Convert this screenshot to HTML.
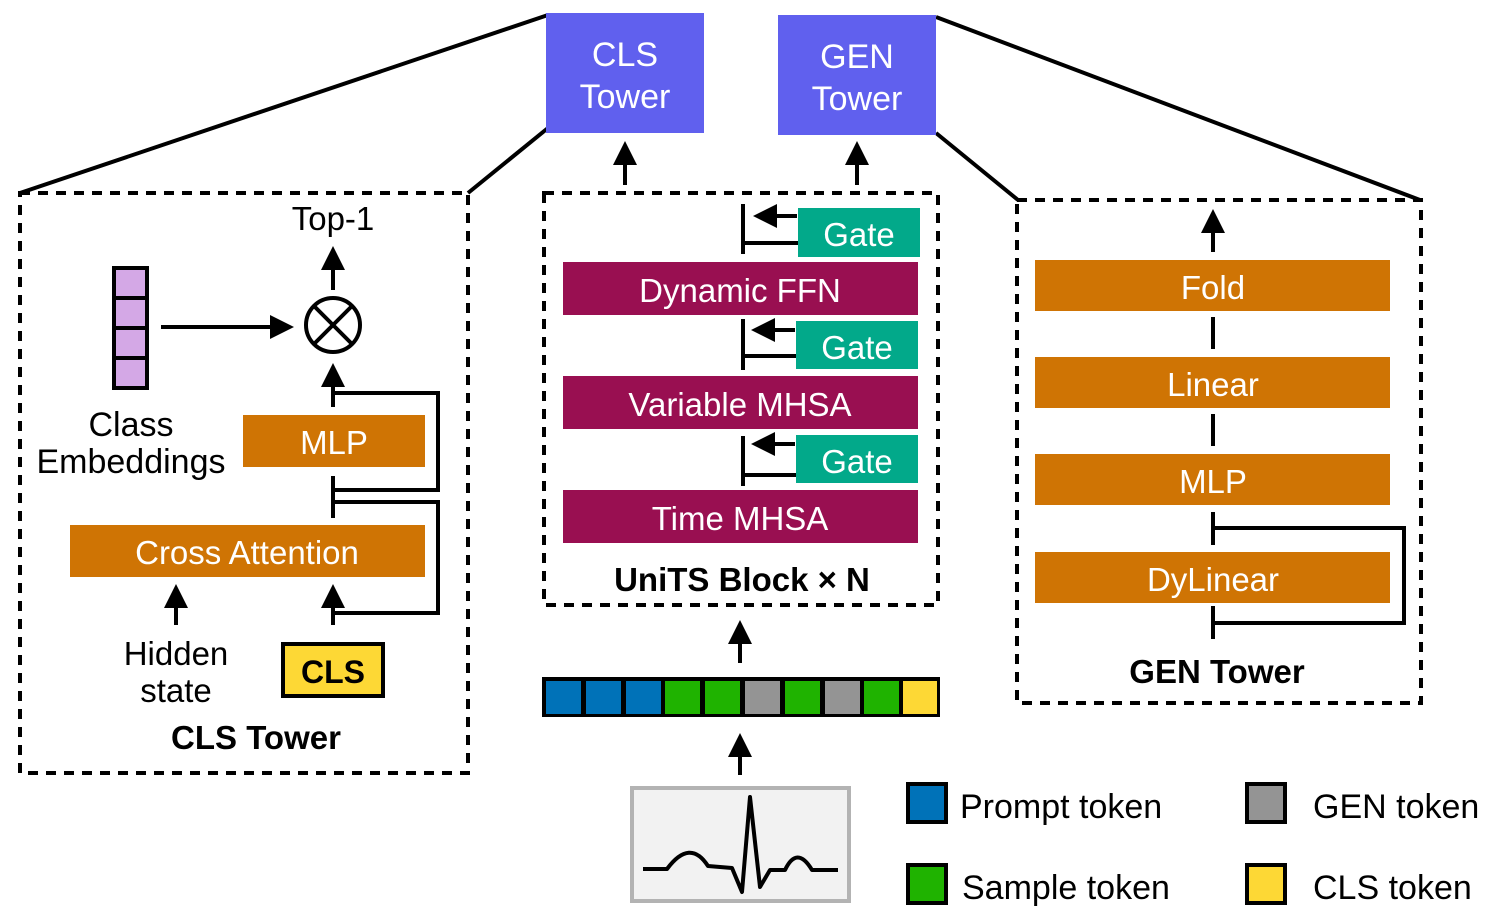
<!DOCTYPE html>
<html><head><meta charset="utf-8"><style>
html,body{margin:0;padding:0;background:#fff;}
svg{display:block;}
text{font-family:"Liberation Sans",sans-serif;}
</style></head><body>
<svg width="1495" height="923" viewBox="0 0 1495 923" xmlns="http://www.w3.org/2000/svg">
<defs>
<marker id="ah" markerWidth="6" markerHeight="6" refX="5" refY="3" orient="auto" markerUnits="strokeWidth">
<path d="M0,0 L6,3 L0,6 z" fill="#000"/></marker>
</defs>
<g stroke="#000" stroke-width="4" fill="none">
<line x1="20" y1="193" x2="548" y2="15"/>
<line x1="468" y1="193" x2="548" y2="128"/>
<line x1="936" y1="17" x2="1420" y2="200"/>
<line x1="936" y1="133" x2="1018" y2="200"/>
</g>
<rect x="546" y="13" width="158" height="120" fill="#6060ee"/>
<rect x="778" y="15" width="158" height="120" fill="#6060ee"/>
<g fill="#fff" font-size="34" text-anchor="middle">
<text x="625" y="66">CLS</text><text x="625" y="108">Tower</text>
<text x="857" y="68">GEN</text><text x="857" y="110">Tower</text>
</g>
<g stroke="#000" stroke-width="4" fill="none" stroke-dasharray="10,8">
<rect x="20" y="193" width="448" height="580"/>
<rect x="544" y="193" width="394" height="412"/>
<rect x="1017" y="200" width="404" height="503"/>
</g>
<g stroke="#000" stroke-width="4" fill="none" marker-end="url(#ah)">
<line x1="625" y1="185" x2="625" y2="145"/>
<line x1="857" y1="185" x2="857" y2="145"/>
<line x1="740" y1="663" x2="740" y2="624"/>
<line x1="740" y1="775" x2="740" y2="737"/>
<line x1="333" y1="290" x2="333" y2="250"/>
<line x1="161" y1="327" x2="290" y2="327"/>
<line x1="333" y1="407" x2="333" y2="367"/>
<line x1="176" y1="625" x2="176" y2="588"/>
<line x1="333" y1="625" x2="333" y2="588"/>
<line x1="1213" y1="252" x2="1213" y2="213"/>
<line x1="797" y1="216" x2="757" y2="216"/>
<line x1="795" y1="330" x2="755" y2="330"/>
<line x1="795" y1="444" x2="755" y2="444"/>
</g>
<text x="333" y="230" font-size="33" text-anchor="middle">Top-1</text>
<circle cx="333" cy="325" r="27" fill="none" stroke="#000" stroke-width="4"/>
<g stroke="#000" stroke-width="4"><line x1="314" y1="306" x2="352" y2="344"/><line x1="352" y1="306" x2="314" y2="344"/></g>
<g fill="#d4a8e6" stroke="#000" stroke-width="4">
<rect x="114" y="268" width="33" height="30"/><rect x="114" y="298" width="33" height="30"/>
<rect x="114" y="328" width="33" height="30"/><rect x="114" y="358" width="33" height="30"/>
</g>
<text x="131" y="436" font-size="34" text-anchor="middle">Class</text>
<text x="131" y="473" font-size="34" text-anchor="middle">Embeddings</text>
<rect x="243" y="415" width="182" height="52" fill="#cf7404"/>
<text x="334" y="454" font-size="33" fill="#fff" text-anchor="middle">MLP</text>
<rect x="70" y="525" width="355" height="52" fill="#cf7404"/>
<text x="247" y="564" font-size="33" fill="#fff" text-anchor="middle">Cross Attention</text>
<g stroke="#000" stroke-width="4" fill="none">
<polyline points="333,393 438,393 438,490 333,490"/>
<polyline points="333,502 438,502 438,613 333,613"/>
<line x1="333" y1="476" x2="333" y2="518"/>
</g>
<text x="176" y="665" font-size="33" text-anchor="middle">Hidden</text>
<text x="176" y="702" font-size="33" text-anchor="middle">state</text>
<rect x="283" y="644" width="100" height="52" fill="#fdd835" stroke="#000" stroke-width="4"/>
<text x="333" y="683" font-size="32" font-weight="bold" text-anchor="middle">CLS</text>
<text x="256" y="749" font-size="33" font-weight="bold" text-anchor="middle">CLS Tower</text>
<rect x="798" y="208" width="122" height="49" fill="#02a98a"/>
<rect x="796" y="321" width="122" height="48" fill="#02a98a"/>
<rect x="796" y="435" width="122" height="48" fill="#02a98a"/>
<g fill="#fff" font-size="33" text-anchor="middle">
<text x="859" y="246">Gate</text><text x="857" y="359">Gate</text><text x="857" y="473">Gate</text>
</g>
<rect x="563" y="262" width="355" height="53" fill="#990f51"/>
<rect x="563" y="376" width="355" height="53" fill="#990f51"/>
<rect x="563" y="490" width="355" height="53" fill="#990f51"/>
<g fill="#fff" font-size="33" text-anchor="middle">
<text x="740" y="302">Dynamic FFN</text><text x="740" y="416">Variable MHSA</text><text x="740" y="530">Time MHSA</text>
</g>
<g stroke="#000" stroke-width="4" fill="none">
<line x1="743" y1="204" x2="743" y2="254"/><line x1="743" y1="243" x2="798" y2="243"/>
<line x1="743" y1="319" x2="743" y2="370"/><line x1="743" y1="356" x2="796" y2="356"/>
<line x1="743" y1="436" x2="743" y2="486"/><line x1="743" y1="475" x2="796" y2="475"/>
</g>
<text x="742" y="591" font-size="33" font-weight="bold" text-anchor="middle">UniTS Block × N</text>
<rect x="542" y="677" width="398" height="40" fill="#000"/>
<g>
<rect x="546" y="681" width="35" height="33" fill="#0072b8"/>
<rect x="586" y="681" width="35" height="33" fill="#0072b8"/>
<rect x="626" y="681" width="35" height="33" fill="#0072b8"/>
<rect x="665" y="681" width="35" height="33" fill="#1fb300"/>
<rect x="705" y="681" width="35" height="33" fill="#1fb300"/>
<rect x="745" y="681" width="35" height="33" fill="#949494"/>
<rect x="785" y="681" width="35" height="33" fill="#1fb300"/>
<rect x="825" y="681" width="35" height="33" fill="#949494"/>
<rect x="864" y="681" width="35" height="33" fill="#1fb300"/>
<rect x="903" y="681" width="34" height="33" fill="#fdd835"/>
</g>
<rect x="632" y="788" width="217" height="113" fill="#f2f2f2" stroke="#b3b3b3" stroke-width="4"/>
<path d="M643,869 L667,869 Q690,838 708,866 L732,868 L742,892 L750,797 L760,887 L770,870 L785,870 Q797,845 812,870 L838,870" fill="none" stroke="#000" stroke-width="4" stroke-linejoin="round"/>
<g fill="#cf7404">
<rect x="1035" y="260" width="355" height="51"/>
<rect x="1035" y="357" width="355" height="51"/>
<rect x="1035" y="454" width="355" height="51"/>
<rect x="1035" y="552" width="355" height="51"/>
</g>
<g fill="#fff" font-size="33" text-anchor="middle">
<text x="1213" y="299">Fold</text><text x="1213" y="396">Linear</text><text x="1213" y="493">MLP</text><text x="1213" y="591">DyLinear</text>
</g>
<g stroke="#000" stroke-width="4" fill="none">
<line x1="1213" y1="317" x2="1213" y2="349"/>
<line x1="1213" y1="414" x2="1213" y2="446"/>
<line x1="1213" y1="512" x2="1213" y2="545"/>
<line x1="1213" y1="606" x2="1213" y2="639"/>
<polyline points="1213,528 1404,528 1404,623 1213,623"/>
</g>
<text x="1217" y="683" font-size="33" font-weight="bold" text-anchor="middle">GEN Tower</text>
<g stroke="#000" stroke-width="4">
<rect x="908" y="784" width="38" height="38" fill="#0072b8"/>
<rect x="908" y="865" width="38" height="38" fill="#1fb300"/>
<rect x="1247" y="784" width="38" height="38" fill="#949494"/>
<rect x="1247" y="865" width="38" height="38" fill="#fdd835"/>
</g>
<g font-size="34">
<text x="960" y="818">Prompt token</text>
<text x="962" y="899">Sample token</text>
<text x="1313" y="818">GEN token</text>
<text x="1313" y="899">CLS token</text>
</g>
</svg>
</body></html>
